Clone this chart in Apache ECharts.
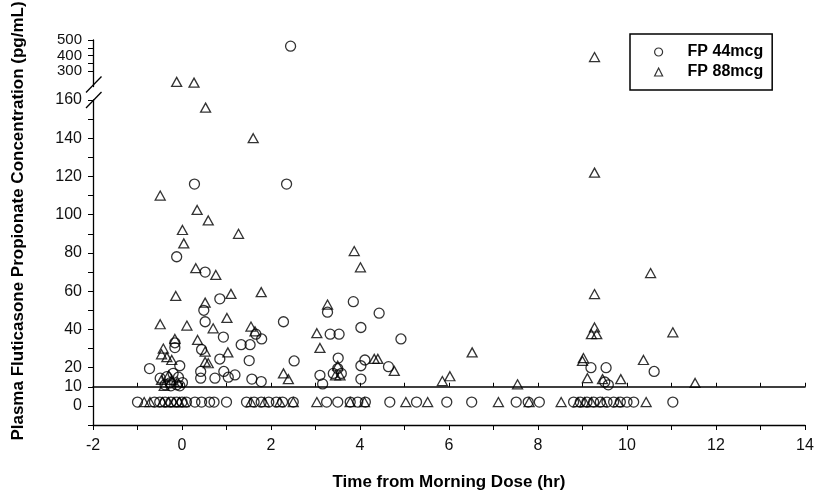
<!DOCTYPE html>
<html>
<head>
<meta charset="utf-8">
<script src="https://cdn.jsdelivr.net/npm/echarts@6/dist/echarts.min.js"></script>
<style>
  html, body { margin: 0; padding: 0; background: #fff; }
  #chart { width: 817px; height: 491px; }
</style>
</head>
<body>
<div id="chart"></div>
<script>
// Plasma fluticasone propionate concentration (pg/mL) vs time from morning dose (hr).
// Each point is [time, concentration]. Samples below the quantitation limit
// are listed by time only and drawn at BLQ_LEVEL.
const LOQ = 10;
const BLQ_LEVEL = 2;

const fp44Points = [
  [2.44, 460],
  [0.28, 116], [2.35, 116],
  [-0.12, 78], [0.52, 70], [0.85, 56], [0.49, 50], [0.52, 44], [2.28, 44],
  [0.93, 36], [3.27, 49], [3.33, 37.5], [3.53, 37.5], [3.85, 54.5], [4.43, 48.5],
  [4.02, 41], [4.92, 35], [1.66, 37.5], [1.79, 35], [1.33, 32], [1.53, 32],
  [1.51, 23.7], [2.52, 23.5], [3.51, 25], [4.11, 24], [4.02, 21], [4.64, 20.5],
  [-0.16, 33], [-0.16, 30.5], [0.44, 29.5], [-0.73, 19.5], [-0.05, 21], [-0.49, 14.5],
  [-0.34, 15.3], [-0.2, 17], [-0.08, 15], [-0.27, 12], [-0.12, 11], [0.01, 12.2],
  [-0.38, 11], [-0.25, 10.5], [-0.05, 10.5],
  [0.42, 18], [0.42, 14.5], [0.74, 14.5], [0.94, 18], [1.19, 16.2], [1.04, 15],
  [0.85, 24.5], [1.57, 14], [1.78, 12.7],
  [3.1, 16], [3.16, 11.5], [3.4, 17], [3.58, 17], [3.5, 19.5], [4.02, 14],
  [9.19, 20], [9.53, 20], [10.61, 18], [9.5, 12.5], [9.58, 11]
];

const fp88Points = [
  [-0.12, 230], [0.27, 225], [9.27, 390],
  [0.53, 156], [1.60, 140], [-0.49, 110], [9.27, 122], [0.34, 102.5], [0.59, 97],
  [0.01, 92], [1.27, 90], [0.04, 85], [0.31, 72], [0.76, 68.5], [3.87, 81], [4.01, 72.5],
  [10.53, 69.5], [-0.14, 57.5], [1.10, 58.6], [1.78, 59.5], [9.27, 58.5], [0.52, 54],
  [3.27, 53], [1.01, 46], [-0.49, 42.7], [0.11, 42], [0.70, 40.6], [1.55, 41.5], [1.64, 39],
  [3.03, 38], [3.10, 30.3], [9.2, 37.5], [9.27, 41], [9.32, 37.5], [11.03, 38.5],
  [-0.16, 35], [-0.42, 30], [-0.46, 27], [-0.34, 25.5], [-0.23, 24], [0.35, 34.5], [0.52, 28.4],
  [0.52, 23], [0.59, 22.3], [1.03, 28], [2.28, 17], [2.39, 14], [3.5, 21], [3.45, 16], [3.55, 16],
  [4.32, 24.6], [4.40, 24.6], [4.77, 18.3], [6.52, 28], [6.02, 15.5], [5.85, 13], [7.54, 11.3],
  [9.02, 25], [9.0, 23.5], [10.37, 24], [9.11, 14.5], [9.45, 14], [9.86, 14], [11.53, 12],
  [-0.46, 13.6], [-0.23, 13.6], [-0.3, 16], [-0.1, 12.5], [-0.4, 10.5]
];

const fp44BlqTimes = [
  -1.0, -0.62, -0.5, -0.38, -0.25, -0.12, 0.0, 0.1, 0.29, 0.44, 0.62, 0.72, 1.0,
  1.45, 1.62, 1.78, 1.95, 2.12, 2.26, 2.5, 3.25, 3.5, 3.78, 3.95, 4.12, 4.67,
  5.27, 5.95, 6.51, 7.51, 7.78, 8.03,
  8.8, 8.95, 9.1, 9.25, 9.4, 9.55, 9.7, 9.85, 10.0, 10.15, 11.03
];

const fp88BlqTimes = [
  -0.85, -0.72, -0.44, -0.3, -0.18, -0.06, 0.05, 1.55, 1.85, 2.2, 2.5, 3.03, 3.78, 4.1,
  5.03, 5.52, 7.11, 7.8, 8.52, 8.9, 9.05, 9.2, 9.45, 9.8, 10.43
];

const xTickLabels = [-2, 0, 2, 4, 6, 8, 10, 12, 14];
const yLowTickLabels = [0, 10, 20, 40, 60, 80, 100, 120, 140, 160];
const yHighTickLabels = [300, 400, 500];
const yHighTicks = [300, 350, 400, 450, 500];

// Two stacked panels share the time axis: values above the break go to the top panel.
const BREAK_AT = 165;
const LOW_MIN = -10, LOW_MAX = 160;
const HIGH_MIN = 200, HIGH_MAX = 500;

const FONT = '"Liberation Sans", Arial, Helvetica, sans-serif';
const INK = '#000';

// layout (px)
const PLOT_LEFT = 93, PLOT_RIGHT = 12;
const LOW_TOP = 100, LOW_BOTTOM = 66;
const HIGH_TOP = 40, HIGH_HEIGHT = 46.5;

const lowerPart = pts => pts.filter(p => p[1] <= BREAK_AT);
const upperPart = pts => pts.filter(p => p[1] > BREAK_AT);
const blq = times => times.map(t => [t, BLQ_LEVEL]);

const markerStyle = { color: 'rgba(0,0,0,0)', borderColor: INK, borderWidth: 1.3 };
const circleSeries = { type: 'scatter', name: 'FP 44mcg', symbol: 'circle', symbolSize: 10, itemStyle: markerStyle, silent: true };
const triSeries = { type: 'scatter', name: 'FP 88mcg', symbol: 'triangle', symbolSize: [10, 9], itemStyle: markerStyle, silent: true };

const chart = echarts.init(document.getElementById('chart'), null, { renderer: 'canvas' });

const tickLabel = {
  fontFamily: FONT, fontSize: 16, color: '#111',
  hideOverlap: false, showMinLabel: true, showMaxLabel: true
};

// slash marks across the y axis where the scale is broken
const slashY1 = HIGH_TOP + HIGH_HEIGHT - 2;
const slashY2 = LOW_TOP;
const slash = cy => ({
  type: 'line', silent: true,
  shape: { x1: PLOT_LEFT - 7, y1: cy + 8, x2: PLOT_LEFT + 8.5, y2: cy - 8 },
  style: { stroke: INK, lineWidth: 1.3 }
});

chart.setOption({
  animation: false,
  backgroundColor: '#fff',
  grid: [
    { left: PLOT_LEFT, right: PLOT_RIGHT, top: LOW_TOP, bottom: LOW_BOTTOM, outerBoundsMode: 'none', containLabel: false },
    { left: PLOT_LEFT, right: PLOT_RIGHT, top: HIGH_TOP, height: HIGH_HEIGHT, outerBoundsMode: 'none', containLabel: false }
  ],
  xAxis: [
    {
      gridIndex: 0, type: 'value', min: -2, max: 14, interval: 1, position: 'bottom',
      axisLine: { onZero: false, lineStyle: { color: INK, width: 1.3 } },
      axisTick: { length: 5, lineStyle: { color: INK, width: 1 } },
      axisLabel: {
        ...tickLabel, margin: 13,
        formatter: v => (xTickLabels.indexOf(v) >= 0 ? String(v) : '')
      },
      splitLine: { show: false },
      name: 'Time from Morning Dose (hr)', nameLocation: 'middle', nameGap: 49,
      nameTextStyle: { fontFamily: FONT, fontSize: 17, fontWeight: 'bold', color: INK }
    },
    {
      // quantitation-limit line at LOQ, sharing the time scale
      gridIndex: 0, type: 'value', min: -2, max: 14, interval: 1, position: 'bottom',
      axisLine: { onZero: true, onZeroAxisIndex: 1, lineStyle: { color: INK, width: 1.5 } },
      axisTick: { inside: true, length: 4, lineStyle: { color: INK, width: 1 } },
      axisLabel: { show: false },
      splitLine: { show: false }
    },
    { gridIndex: 1, type: 'value', min: -2, max: 14, show: false }
  ],
  yAxis: [
    {
      gridIndex: 0, type: 'value', min: LOW_MIN, max: LOW_MAX, interval: 10,
      axisLine: { show: true, onZero: false, lineStyle: { color: INK, width: 1.3 } },
      axisTick: { show: true, length: 5, lineStyle: { color: INK, width: 1 } },
      axisLabel: {
        ...tickLabel, margin: 11,
        formatter: v => (yLowTickLabels.indexOf(v) >= 0 ? String(v) : '')
      },
      splitLine: { show: false }
    },
    {
      // offset scale whose zero sits at LOQ on the main concentration scale
      gridIndex: 0, type: 'value', min: LOW_MIN - LOQ, max: LOW_MAX - LOQ, show: false,
      axisLine: { onZero: false }
    },
    {
      gridIndex: 1, type: 'value', min: HIGH_MIN, max: HIGH_MAX, interval: 50,
      axisLine: { show: true, onZero: false, lineStyle: { color: INK, width: 1.3 } },
      axisTick: { show: true, length: 5, customValues: yHighTicks, lineStyle: { color: INK, width: 1 } },
      axisLabel: { ...tickLabel, fontSize: 15, lineHeight: 12, margin: 11, customValues: yHighTickLabels },
      splitLine: { show: false }
    }
  ],
  legend: {
    left: 630, top: 34, orient: 'vertical', selectedMode: false,
    data: [{ name: 'FP 44mcg', icon: 'circle' }, { name: 'FP 88mcg', icon: 'triangle' }],
    itemWidth: 8, itemHeight: 8, itemGap: 4,
    padding: [10, 9, 10, 24],
    borderColor: INK, borderWidth: 1.5, borderRadius: 0,
    itemStyle: { color: 'rgba(0,0,0,0)', borderColor: INK, borderWidth: 1.2 },
    textStyle: { fontFamily: FONT, fontSize: 16, fontWeight: 'bold', color: INK, lineHeight: 16, padding: [0, 0, 0, 20] }
  },
  graphic: [
    {
      type: 'text', x: 18, y: 221, rotation: Math.PI / 2, silent: true,
      style: {
        text: 'Plasma Fluticasone Propionate Concentration (pg/mL)',
        fontFamily: FONT, fontSize: 17, fontWeight: 'bold', fill: INK,
        align: 'center', verticalAlign: 'middle'
      }
    },
    { type: 'rect', silent: true, shape: { x: PLOT_LEFT - 9, y: slashY1 + 2, width: 18, height: slashY2 - slashY1 - 4 }, style: { fill: '#fff' } },
    slash(slashY1),
    slash(slashY2)
  ],
  series: [
    { ...circleSeries, xAxisIndex: 0, yAxisIndex: 0, data: lowerPart(fp44Points).concat(blq(fp44BlqTimes)) },
    { ...circleSeries, xAxisIndex: 2, yAxisIndex: 2, data: upperPart(fp44Points) },
    { ...triSeries, xAxisIndex: 0, yAxisIndex: 0, data: lowerPart(fp88Points).concat(blq(fp88BlqTimes)) },
    { ...triSeries, xAxisIndex: 2, yAxisIndex: 2, data: upperPart(fp88Points) }
  ]
});
</script>
</body>
</html>
